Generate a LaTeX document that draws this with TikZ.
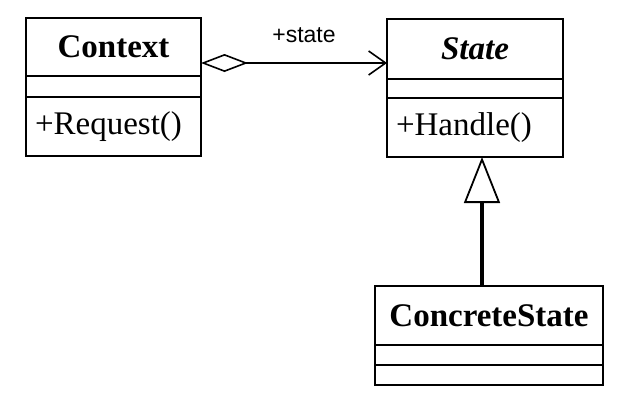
\documentclass[tikz,border=0pt]{standalone}
\usepackage{fontspec}
\setmainfont{Liberation Serif}
\newfontfamily\rolefont{Liberation Sans}
\usetikzlibrary{arrows.meta}

\begin{document}
\begin{tikzpicture}[x=1pt,y=-1pt,
  box/.style={draw,line width=2.7pt,inner sep=0pt,outer sep=0pt},
  thin/.style={draw,line width=1.1pt,inner sep=0pt,outer sep=0pt},
  nm/.style={font=\fontsize{33}{38}\selectfont\bfseries},
  ops/.style={font=\fontsize{33}{38}\selectfont,align=left,inner xsep=9pt},
  assoc/.style={line width=1.6pt,
    {Diamond[open,length=47pt,width=18pt,line width=1.6pt]}-{Straight Barb[length=17pt,width=24pt]}},
  inherit/.style={line width=3.2pt,-{Triangle[open,length=46pt,width=36pt,line width=1.8pt]}},
  role/.style={font=\rolefont\fontsize{23}{27}\selectfont,inner sep=0pt}]
\useasboundingbox (0,0) rectangle (642,413);
% Context
\node[box,nm,minimum width=175pt,minimum height=58pt] (ctxname) at (113.5,47) {Context};
\node[box,minimum width=175pt,minimum height=21pt] (ctxattr) at (113.5,86.5) {};
\node[box,ops,text width=157pt,minimum height=59pt] (ctxops) at (113.5,126.5) {+Request()};
% State
\node[box,nm,minimum width=176pt,minimum height=60pt] (stname) at (475,49) {\itshape State};
\node[box,minimum width=176pt,minimum height=19pt] (stattr) at (475,88.5) {};
\node[box,ops,text width=158pt,minimum height=59pt] (stops) at (475,127.5) {+Handle()};
% ConcreteState
\node[box,nm,minimum width=228pt,minimum height=59pt] (csname) at (489,315.5) {ConcreteState};
\node[thin,minimum width=228pt,minimum height=20pt] (csattr) at (489,355) {};
\node[thin,minimum width=228pt,minimum height=20pt] (csops) at (489,375) {};
\draw[line width=2.7pt] (csname.north west) rectangle (csops.south east);
% relations
\draw[assoc] ([yshift=-16pt]ctxname.east) -- node[role,above=19pt,xshift=10pt] (rolelbl) {+state} ([yshift=-14pt]stname.west);
\draw[inherit] ([xshift=-7pt]csname.north) -- ([xshift=7pt]stops.south);
\end{tikzpicture}
\end{document}
